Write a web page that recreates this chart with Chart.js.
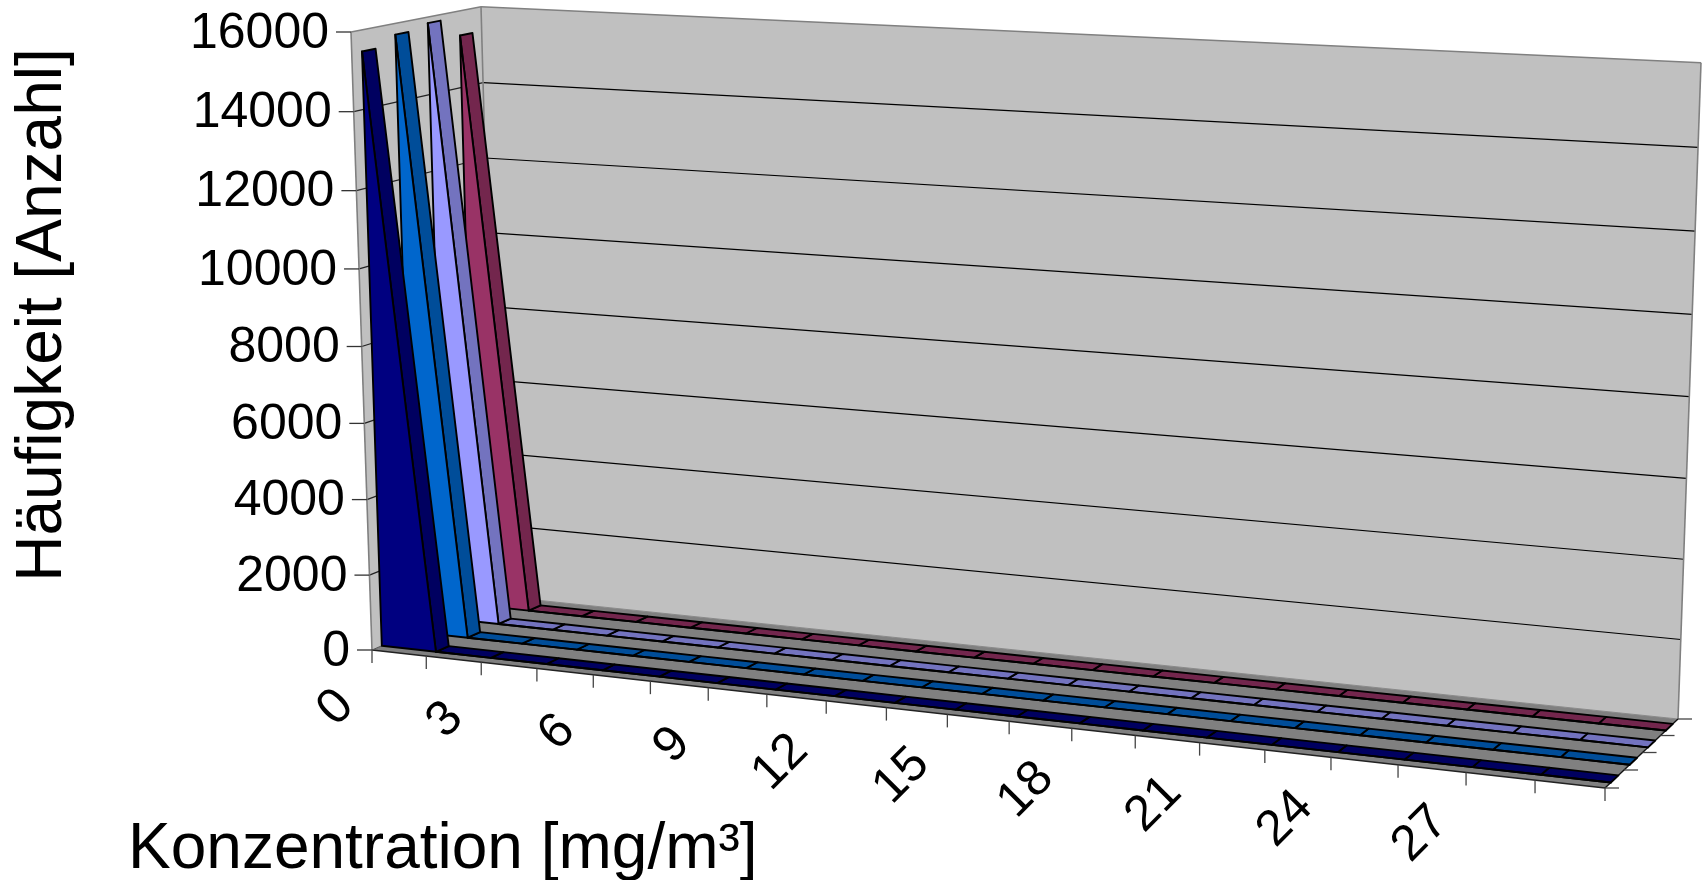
<!DOCTYPE html>
<html><head><meta charset="utf-8">
<style>html,body{margin:0;padding:0;background:#fff}canvas{display:block}</style>
<script src="https://cdn.jsdelivr.net/npm/chart.js@4"></script>
</head><body>
<canvas id="c" width="1705" height="880" style="width:1705px;height:880px"></canvas>
<script>
// ----- data -----
const categories = ['0','','3','','6','','9','','12','','15','','18','','21','','24','','27','',''];
const series1 = [15460,0,0,0,0,0,0,0,0,0,0,0,0,0,0,0,0,0,0,0,0];
const series2 = [15715,0,0,0,0,0,0,0,0,0,0,0,0,0,0,0,0,0,0,0,0];
const series3 = [15846,0,0,0,0,0,0,0,0,0,0,0,0,0,0,0,0,0,0,0,0];
const series4 = [15360,0,0,0,0,0,0,0,0,0,0,0,0,0,0,0,0,0,0,0,0];
const yTitle = 'Häufigkeit [Anzahl]';
const xTitle = 'Konzentration [mg/m³]';

// ----- view of the 3D box -----
const floorQuad = [[372,650],[1605,788],[1678,719],[497,596]];
const topQuad   = [[351,32],[1627,100],[1701,62.7],[481,6.7]];
const vertK = 0.965;
function homography(q){
  const [p0,p1,p2,p3]=q;
  const dx1=p1[0]-p2[0],dy1=p1[1]-p2[1],dx2=p3[0]-p2[0],dy2=p3[1]-p2[1];
  const sx=p0[0]-p1[0]+p2[0]-p3[0],sy=p0[1]-p1[1]+p2[1]-p3[1];
  const den=dx1*dy2-dx2*dy1;
  const g=(sx*dy2-dx2*sy)/den,h=(dx1*sy-sx*dy1)/den;
  return (u,v)=>{
    const d=1+g*u+h*v;
    return [((p1[0]*(1+g)-p0[0])*u+(p3[0]*(1+h)-p0[0])*v+p0[0])/d,
            ((p1[1]*(1+g)-p0[1])*u+(p3[1]*(1+h)-p0[1])*v+p0[1])/d];
  };
}
const hFloor=homography(floorQuad),hTop=homography(topQuad);
function P(u,v,w){
  const a=hFloor(u,v),b=hTop(u,v),f=w*vertK/(1-w+w*vertK);
  return [a[0]+(b[0]-a[0])*f,a[1]+(b[1]-a[1])*f];
}
function poly(ctx,pts,fill,stroke,lw){
  ctx.beginPath();pts.forEach((p,i)=>i?ctx.lineTo(p[0],p[1]):ctx.moveTo(p[0],p[1]));ctx.closePath();
  if(fill){ctx.fillStyle=fill;ctx.fill();}
  if(stroke){ctx.strokeStyle=stroke;ctx.lineWidth=lw||1;ctx.lineJoin='round';ctx.stroke();}
}
function seg(ctx,a,b,col,lw){
  ctx.beginPath();ctx.moveTo(a[0],a[1]);ctx.lineTo(b[0],b[1]);ctx.strokeStyle=col;ctx.lineWidth=lw||1;ctx.stroke();
}
const WALL='#c0c0c0',FLOOR='#808080',EDGE='#808080',FONT='"Liberation Sans"';

const box3d={
  id:'box3d',
  beforeDatasetsDraw(chart){
    const ctx=chart.ctx,xs=chart.scales.x,ys=chart.scales.y;
    const wOf=val=>(ys.bottom-ys.getPixelForValue(val))/ys.height;
    const uOf=i=>(xs.getPixelForValue(i)-xs.left)/xs.width;
    const n=categories.length,nS=chart.data.datasets.length;
    ctx.save();
    // walls
    poly(ctx,[P(0,1,0),P(0,1,1),P(1,1,1),P(1,1,0)],WALL);
    poly(ctx,[P(0,0,0),P(0,0,1),P(0,1,1),P(0,1,0)],WALL);
    // gridlines
    ys.ticks.forEach(t=>{
      const w=wOf(t.value);
      if(t.value===0) return;
      if(t.value<ys.max){
        seg(ctx,P(0,1,w),P(1,1,w),'#000',1.2);
        seg(ctx,P(0,0,w),P(0,1,w),'#222',1.2);
      }
    });
    // wall edges
    [[P(0,0,0),P(0,0,1)],[P(0,0,1),P(0,1,1)],[P(0,1,1),P(1,1,1)],[P(1,1,1),P(1,1,0)],[P(0,1,0),P(0,1,1)]]
      .forEach(s=>seg(ctx,s[0],s[1],EDGE,1.6));
    // floor
    poly(ctx,[P(0,0,0),P(1,0,0),P(1,1,0),P(0,1,0)],FLOOR);
    seg(ctx,P(0,1,0),P(1,1,0),'#8a8a8a',1.2);
    seg(ctx,P(0,0,0),P(1,0,0),'#222',1.4);
    seg(ctx,P(1,0,0),P(1,1,0),'#111',1.4);
    seg(ctx,P(0,0,0),P(0,1,0),'#555',1);
    // series, back to front
    for(let s=nS-1;s>=0;s--){
      const ds=chart.data.datasets[s],meta=chart.getDatasetMeta(s);
      const v0=(s+0.3)/nS,v1=(s+0.7)/nS;
      const pt=meta.data.map(el=>({u:(el.x-xs.left)/xs.width,w:(ys.bottom-el.y)/ys.height}));
      for(let i=n-2;i>=0;i--){
        const a=pt[i],b=pt[i+1];
        poly(ctx,[P(a.u,v0,a.w),P(b.u,v0,b.w),P(b.u,v1,b.w),P(a.u,v1,a.w)],ds.topColor,'#000',1.9);
      }
      const front=pt.map(q=>P(q.u,v0,q.w));
      for(let i=n-1;i>=0;i--) front.push(P(pt[i].u,v0,0));
      poly(ctx,front,ds.backgroundColor,'#000',1.9);
    }
    // tick marks
    ys.ticks.forEach(t=>{const p=P(0,0,wOf(t.value));seg(ctx,[p[0]-15,p[1]],p,'#333',1.3);});
    for(let i=0;i<n;i++){const p=P(uOf(i),0,0);seg(ctx,p,[p[0],p[1]+13],'#444',1.3);}
    for(let s=0;s<=nS;s++){const p=P(1,s/nS,0);seg(ctx,p,[p[0]+14,p[1]],'#444',1.3);}
    // tick labels
    ctx.fillStyle='#000';
    ctx.font='50px '+FONT;ctx.textAlign='right';ctx.textBaseline='middle';
    ys.ticks.forEach(t=>{const p=P(0,0,wOf(t.value));ctx.fillText(String(t.value),p[0]-22,p[1]+2);});
    xs.getLabels().forEach((lab,i)=>{
      if(!lab) return;
      const p=P(uOf(i),0,0);
      ctx.save();ctx.translate(p[0]-26,p[1]+(lab.length===1?48:42));ctx.rotate(-Math.PI/4);
      ctx.textAlign='right';ctx.textBaseline='middle';ctx.fillText(lab,0,0);ctx.restore();
    });
    // axis titles
    ctx.font='64px '+FONT;ctx.textAlign='left';ctx.textBaseline='alphabetic';
    ctx.fillText(xTitle,128,868);
    ctx.save();ctx.translate(61,315);ctx.rotate(-Math.PI/2);ctx.textAlign='center';ctx.fillText(yTitle,0,0);ctx.restore();
    ctx.restore();
  }
};

new Chart(document.getElementById('c'),{
  type:'line',
  data:{labels:categories,datasets:[
    {label:'Reihe 1',data:series1,backgroundColor:'#000080',topColor:'#000060',borderColor:'#000080'},
    {label:'Reihe 2',data:series2,backgroundColor:'#0066cc',topColor:'#004d99',borderColor:'#0066cc'},
    {label:'Reihe 3',data:series3,backgroundColor:'#9999ff',topColor:'#7373bf',borderColor:'#9999ff'},
    {label:'Reihe 4',data:series4,backgroundColor:'#993366',topColor:'#73264d',borderColor:'#993366'}
  ]},
  options:{
    responsive:false,animation:false,devicePixelRatio:1,
    layout:{padding:{left:351,top:32,right:50,bottom:230}},
    showLine:false,
    elements:{point:{radius:0,hitRadius:0},line:{borderWidth:0}},
    plugins:{legend:{display:false},tooltip:{enabled:false},title:{display:false}},
    scales:{
      x:{type:'category',offset:false,display:false},
      y:{type:'linear',min:0,max:16000,display:false,ticks:{stepSize:2000}}
    }
  },
  plugins:[box3d]
});
</script>
</body></html>
